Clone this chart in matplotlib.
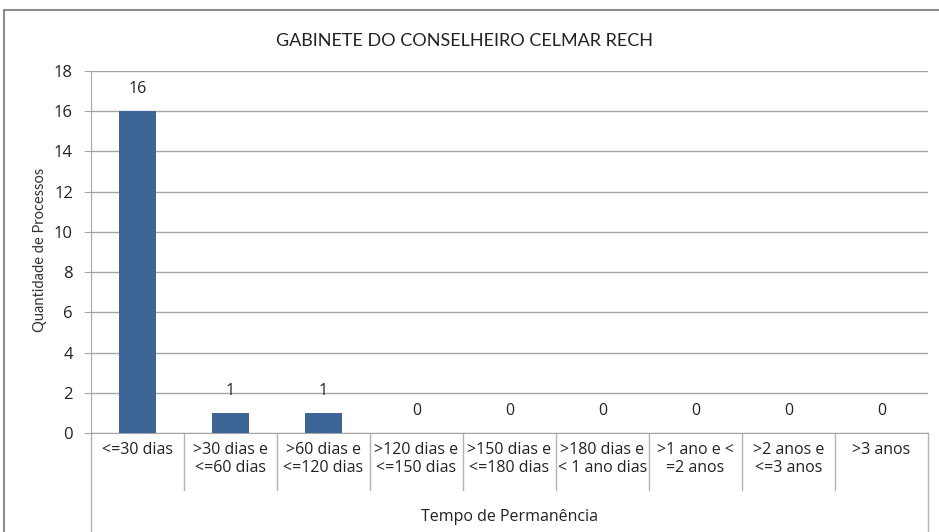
import matplotlib
matplotlib.use("Agg")
import matplotlib.pyplot as plt
from matplotlib.patches import Rectangle
from matplotlib.lines import Line2D
import matplotlib.transforms as mtransforms

categories = ["<=30 dias", ">30 dias e\n<=60 dias", ">60 dias e\n<=120 dias",
              ">120 dias e\n<=150 dias", ">150 dias e\n<=180 dias",
              ">180 dias e\n< 1 ano dias", ">1 ano e <\n=2 anos",
              ">2 anos e\n<=3 anos", ">3 anos"]
values = [16, 1, 1, 0, 0, 0, 0, 0, 0]
yticks = [0, 2, 4, 6, 8, 10, 12, 14, 16, 18]

title = "GABINETE DO CONSELHEIRO CELMAR RECH"
ylabel = "Quantidade de Processos"
xlabel = "Tempo de Permanência"

W, H = 939, 532
fig = plt.figure(figsize=(W / 100, H / 100), dpi=100)
fig.patch.set_facecolor("white")

# outer border
fig.patches.append(Rectangle((4 / W, -0.1), 1.2, (H - 10) / H + 0.1,
                             transform=fig.transFigure, fill=False,
                             edgecolor="#8c8c8c", linewidth=1.5))

left, right = 91 / W, 928 / W
bottom, top = (H - 433) / H, (H - 71) / H
ax = fig.add_axes([left, bottom, right - left, top - bottom])

n = len(categories)
x = list(range(n))
bar_color = "#3d6596"
ax.bar(x, values, width=0.4, color=bar_color, zorder=3)
ax.set_xlim(-0.5, n - 0.5)
ax.set_ylim(0, 18)
ax.set_yticks(yticks)
ax.yaxis.grid(True, color="#a6a6a6", linewidth=1.0, zorder=0)
ax.set_axisbelow(True)
for s in ["top", "right"]:
    ax.spines[s].set_visible(False)
ax.spines["left"].set_color("#a6a6a6")
ax.spines["bottom"].set_color("#a6a6a6")
ax.tick_params(axis="y", length=5, color="#a6a6a6", labelsize=12,
               labelcolor="#222222", pad=8)
ax.set_xticks([])
for lbl in ax.get_yticklabels():
    lbl.set_family("Open Sans")

# data labels
for xi, v in zip(x, values):
    ax.annotate(str(v), (xi, v), xytext=(0, 10), textcoords="offset points",
                ha="center", va="bottom", fontsize=11.5, family="Open Sans",
                color="#222222")

# category table below axis
trans = mtransforms.blended_transform_factory(ax.transData, ax.transAxes)
axh_px = 433 - 71
for k in range(1, n):
    ax.add_line(Line2D([k - 0.5, k - 0.5], [0, -57 / axh_px], transform=trans,
                       color="#b3b3b3", linewidth=1.0, clip_on=False))
for xa in [0, 1]:
    ax.add_line(Line2D([xa, xa], [0, -110 / axh_px], transform=ax.transAxes,
                       color="#b3b3b3", linewidth=1.0, clip_on=False))
for xi, c in zip(x, categories):
    ax.text(xi, -9 / axh_px, c, transform=trans, ha="center", va="top",
            fontsize=11.5, family="Open Sans", color="#222222",
            linespacing=1.15)

ax.text(0.5, -84 / axh_px, xlabel, transform=ax.transAxes, ha="center",
        va="center", fontsize=11.5, family="Open Sans", color="#222222")

fig.text(464 / W, (H - 41) / H, title, ha="center", va="center",
         fontsize=13, family="Lato", color="#222222")
fig.text(40 / W, (H - 250) / H, ylabel, rotation=90, ha="center",
         va="center", fontsize=10.5, family="Lato", color="#333333")

fig.savefig("out.png", dpi=100)
